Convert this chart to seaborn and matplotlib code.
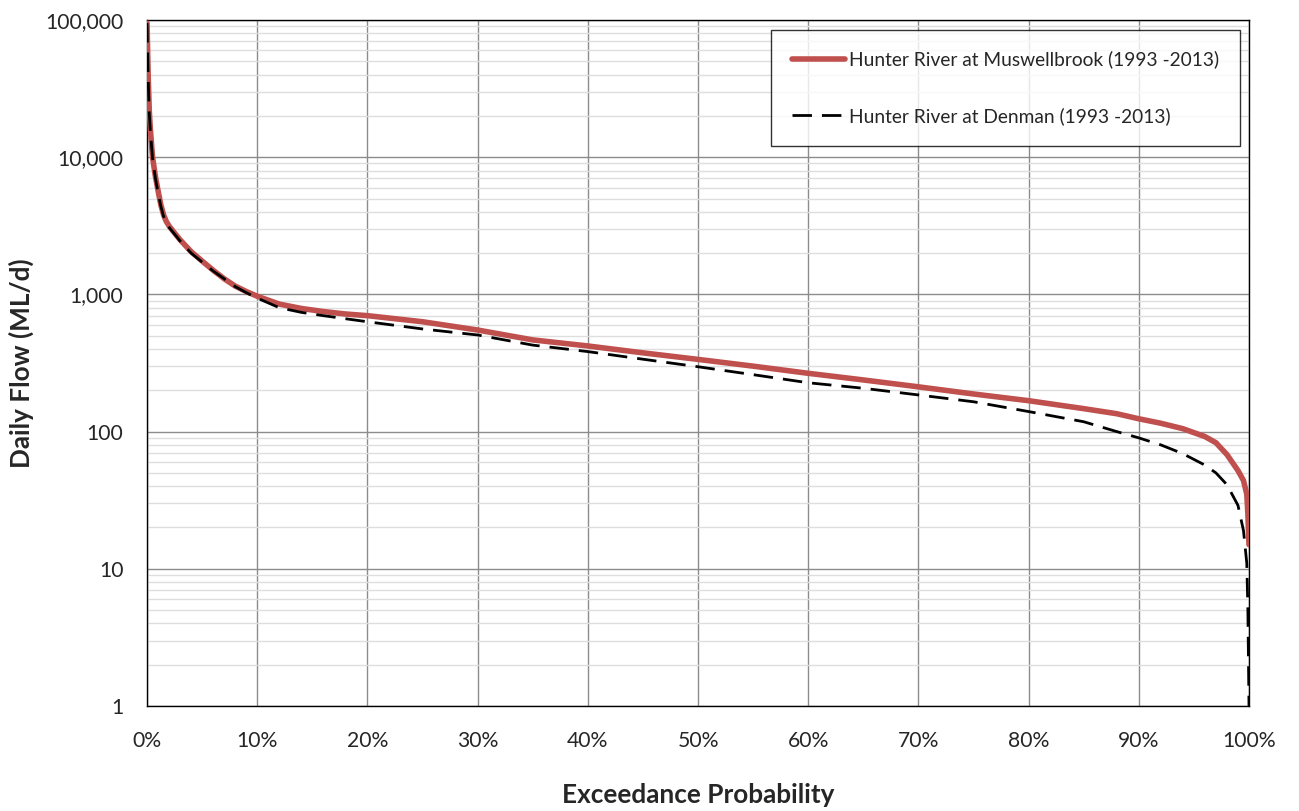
import numpy as np
import pandas as pd
import matplotlib
matplotlib.use("Agg")
import matplotlib.pyplot as plt
import seaborn as sns
from matplotlib.ticker import FuncFormatter, FixedLocator, LogLocator, NullFormatter

# exceedance probability (%) and daily flow (ML/d)
musw_p = [0, 0.05, 0.1, 0.2, 0.3, 0.5, 0.75, 1.0, 1.25, 1.5, 1.75, 2, 2.5, 3, 4, 5,
          6, 7, 8, 9, 10, 12, 14, 16, 18, 20, 25, 30, 35, 40, 45, 50, 55, 60, 65,
          70, 75, 80, 85, 88, 90, 92, 94, 96, 97, 98, 99, 99.5, 99.8, 99.9, 100]
musw_q = [95000, 60000, 40000, 22000, 16000, 10000, 7300, 5700, 4500, 3800, 3400,
          3150, 2800, 2500, 2050, 1750, 1500, 1300, 1150, 1050, 970, 850, 790, 750,
          720, 700, 632, 550, 466, 421, 375, 336, 300, 266, 238, 212, 188, 168, 147,
          135, 124, 115, 105, 92, 83, 68, 52, 44, 35, 25, 15]

denm_p = [0, 0.05, 0.1, 0.2, 0.3, 0.5, 0.75, 1.0, 1.25, 1.5, 1.75, 2, 2.5, 3, 4, 5,
          6, 7, 8, 9, 10, 12, 14, 16, 18, 20, 25, 30, 35, 40, 45, 50, 55, 60, 65,
          70, 75, 80, 85, 88, 90, 92, 94, 96, 97, 98, 99, 99.5, 99.8, 99.9, 100]
denm_q = [95000, 58000, 38000, 21000, 15500, 9800, 7100, 5500, 4400, 3700, 3300,
          3080, 2750, 2450, 2000, 1720, 1480, 1300, 1140, 1030, 940, 800, 740, 700,
          665, 632, 560, 506, 427, 383, 337, 297, 260, 227, 207, 185, 165, 140, 118,
          100, 90, 80, 69, 57, 50, 41, 29, 19, 11, 5, 1]

labels = ["Hunter River at Muswellbrook (1993 -2013)",
          "Hunter River at Denman (1993 -2013)"]

df_m = pd.DataFrame({"p": np.array(musw_p) / 100, "q": musw_q})
df_d = pd.DataFrame({"p": np.array(denm_p) / 100, "q": denm_q})

sns.set_style("white")
plt.rcParams["font.family"] = ["Lato", "DejaVu Sans"]

fig = plt.figure(figsize=(12.99, 8.11), dpi=100)
ax = fig.add_axes([0.1132, 0.1295, 0.8483, 0.8458])

sns.lineplot(data=df_m, x="p", y="q", ax=ax, color="#C0504D", linewidth=4.0,
             label=labels[0], solid_capstyle="round", zorder=3)
sns.lineplot(data=df_d, x="p", y="q", ax=ax, color="black", linewidth=2.0,
             label=labels[1], zorder=4)
ax.lines[1].set_dashes([7, 3.6])

ax.set_yscale("log")
ax.set_xlim(0, 1)
ax.set_ylim(1, 100000)

ax.xaxis.set_major_locator(FixedLocator(np.arange(0, 1.01, 0.1)))
ax.xaxis.set_major_formatter(FuncFormatter(lambda v, _: f"{v*100:.0f}%"))
ax.yaxis.set_major_locator(FixedLocator([1, 10, 100, 1000, 10000, 100000]))
ax.yaxis.set_major_formatter(FuncFormatter(lambda v, _: f"{v:,.0f}"))
ax.yaxis.set_minor_locator(LogLocator(base=10, subs=np.arange(2, 10)))
ax.yaxis.set_minor_formatter(NullFormatter())

ax.grid(which="major", axis="both", color="#8c8c8c", linewidth=1.0)
ax.grid(which="minor", axis="y", color="#dedede", linewidth=1.0)
ax.set_axisbelow(True)

for s in ax.spines.values():
    s.set_color("black")
    s.set_linewidth(1.0)

ax.tick_params(axis="both", which="major", direction="out", length=6,
               width=1, color="black", labelsize=15.2)
ax.tick_params(axis="x", which="major", pad=12)
ax.tick_params(axis="y", which="major", pad=11)
ax.tick_params(axis="y", which="minor", length=0)

ax.set_xlabel("Exceedance Probability", fontsize=18.8, fontweight="bold", labelpad=23)
ax.set_ylabel("Daily Flow (ML/d)", fontsize=18.8, fontweight="bold", labelpad=8)

leg = ax.legend(loc="upper right", bbox_to_anchor=(0.992, 0.986), fontsize=13.8,
                frameon=True, fancybox=False, edgecolor="black",
                handlelength=2.75, handletextpad=0.2, labelspacing=2.0,
                borderpad=1.1, borderaxespad=0)
leg.get_frame().set_linewidth(1.0)
leg.get_lines()[1].set_dashes([7, 3.6])

fig.savefig("out.png", dpi=100, facecolor="white")
